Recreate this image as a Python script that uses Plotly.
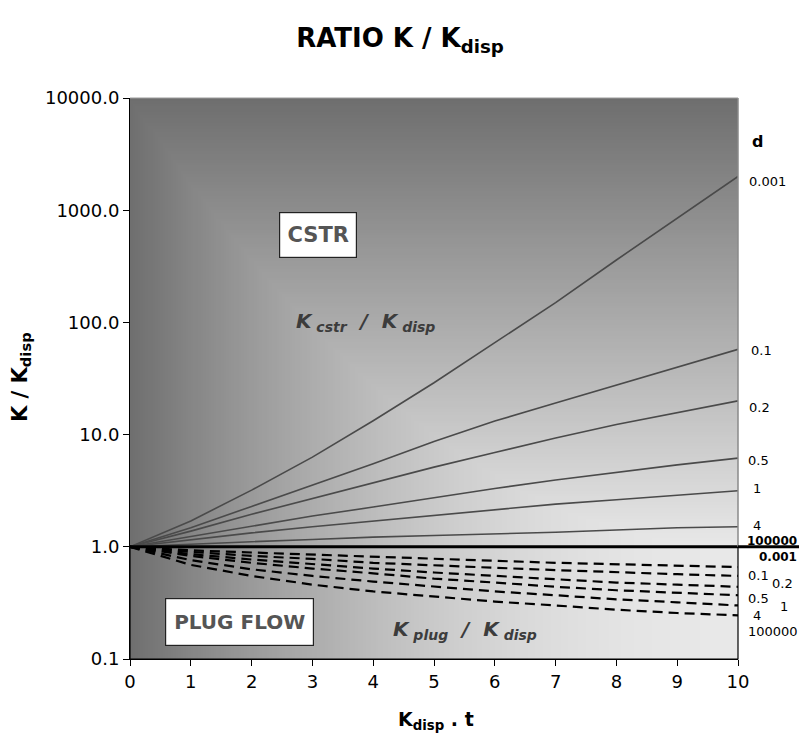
import numpy as np
import plotly.graph_objects as go

# ---------------- data ----------------
kt = [0, 1, 2, 3, 4, 5, 6, 7, 8, 9, 10]

# K_cstr / K_disp for dispersion numbers d
cstr_d_labels = ["0.001", "0.1", "0.2", "0.5", "1", "4", "100000"]
cstr_0_001 = [1, 1.7, 3.2, 6.3, 13.3, 29, 66, 150, 360, 850, 2000]
cstr_0_1 = [1, 1.48, 2.29, 3.55, 5.5, 8.7, 13.2, 19.1, 27.5, 39.8, 57.5]
cstr_0_2 = [1, 1.38, 1.95, 2.69, 3.72, 5.13, 6.92, 9.33, 12.3, 15.8, 20.0]
cstr_0_5 = [1, 1.24, 1.53, 1.88, 2.26, 2.75, 3.31, 3.94, 4.62, 5.37, 6.17]
cstr_1 = [1, 1.16, 1.33, 1.51, 1.70, 1.91, 2.14, 2.40, 2.63, 2.88, 3.16]
cstr_4 = [1, 1.06, 1.11, 1.16, 1.22, 1.26, 1.30, 1.35, 1.41, 1.48, 1.51]
cstr_100000 = [1, 1, 1, 1, 1, 1, 1, 1, 1, 1, 1]

# K_plug / K_disp for dispersion numbers d
plug_d_labels = ["0.001", "0.1", "0.2", "0.5", "1", "4", "100000"]
plug_0_001 = [1, 1, 1, 1, 1, 1, 1, 1, 1, 1, 1]
plug_0_1 = [1, 0.93, 0.89, 0.85, 0.81, 0.78, 0.75, 0.72, 0.70, 0.68, 0.66]
plug_0_2 = [1, 0.90, 0.83, 0.78, 0.72, 0.68, 0.65, 0.62, 0.59, 0.57, 0.55]
plug_0_5 = [1, 0.86, 0.77, 0.70, 0.64, 0.59, 0.55, 0.51, 0.48, 0.46, 0.44]
plug_1 = [1, 0.83, 0.72, 0.64, 0.58, 0.52, 0.48, 0.44, 0.41, 0.39, 0.37]
plug_4 = [1, 0.76, 0.63, 0.55, 0.49, 0.44, 0.40, 0.37, 0.34, 0.32, 0.30]
plug_100000 = [1, 0.69, 0.55, 0.46, 0.40, 0.36, 0.325, 0.30, 0.275, 0.257, 0.245]

y_tick_vals = [0.1, 1, 10, 100, 1000, 10000]
y_tick_text = ["0.1", "1.0", "10.0", "100.0", "1000.0", "10000.0"]
x_tick_vals = [0, 1, 2, 3, 4, 5, 6, 7, 8, 9, 10]

# ---------------- layout geometry ----------------
W, H = 800, 737
L, R, T, B = 130, 738, 98, 659          # plot-area pixel box


def px(xp):
    return (xp - L) / (R - L)


def py(yp):
    return (B - yp) / (B - T)


FONT = "DejaVu Sans, Liberation Sans, sans-serif"

fig = go.Figure()

# ---------------- background gradient (decoration) ----------------
nx = 240
ny = 160
xe = np.linspace(0, 10, nx + 1)
xc = 0.5 * (xe[:-1] + xe[1:]) / 10.0
up_log = np.linspace(0, 4, ny + 1)
ye = np.concatenate([[0.1], 10 ** up_log])
vc = 1 - 0.5 * (up_log[:-1] + up_log[1:]) / 4.0   # 0 at top, 1 at bottom


def ease(t):
    return 1 - (1 - t) ** 2


z = np.zeros((ny + 1, nx))
z[0, :] = ease(xc)
for i in range(ny):
    z[i + 1, :] = np.minimum(ease(xc), vc[i])

fig.add_trace(go.Heatmap(
    x=xe, y=ye, z=z, zmin=0, zmax=1, zsmooth=False,
    colorscale=[[0, "rgb(110,110,110)"], [1, "rgb(232,232,232)"]],
    showscale=False, hoverinfo="skip"))

# ---------------- series ----------------
cstr_series = [cstr_0_001, cstr_0_1, cstr_0_2, cstr_0_5, cstr_1, cstr_4]
for lab, ys in zip(cstr_d_labels, cstr_series):
    fig.add_trace(go.Scatter(x=kt, y=ys, mode="lines", name="cstr d=" + lab,
                             line=dict(color="#4a4a4a", width=1.6)))

plug_series = [plug_0_1, plug_0_2, plug_0_5, plug_1, plug_4, plug_100000]
for lab, ys in zip(plug_d_labels[1:], plug_series):
    fig.add_trace(go.Scatter(x=kt, y=ys, mode="lines", name="plug d=" + lab,
                             line=dict(color="black", width=2.2, dash="10px,6px")))

fig.add_trace(go.Scatter(x=kt, y=cstr_100000, mode="lines", name="cstr d=100000",
                         line=dict(color="#d8d8d8", width=1.2)))
fig.add_trace(go.Scatter(x=kt, y=plug_0_001, mode="lines", name="plug d=0.001",
                         line=dict(color="black", width=3)))

# ---------------- shapes ----------------
y_one = (0 - (-1)) / 5.0
shapes = [
    dict(type="rect", xref="paper", yref="paper", x0=0, x1=1, y0=0, y1=y_one,
         line=dict(color="black", width=1.2)),
    dict(type="line", xref="paper", yref="paper", x0=1, x1=1, y0=y_one, y1=1,
         line=dict(color="#8a8a8a", width=1.5)),
    dict(type="line", xref="paper", yref="paper", x0=0, x1=1, y0=1, y1=1,
         line=dict(color="#9a9a9a", width=1)),
    dict(type="line", xref="paper", yref="paper", x0=1, x1=px(799), y0=y_one, y1=y_one,
         line=dict(color="black", width=3)),
]

# ---------------- annotations ----------------
ann = []


def lab(text, xl, yc, size=13, bold=False):
    t = "<b>%s</b>" % text if bold else text
    ann.append(dict(text=t, xref="paper", yref="paper", x=px(xl), y=py(yc),
                    xanchor="left", yanchor="middle", showarrow=False,
                    font=dict(family=FONT, size=size, color="black")))


lab("d", 750, 141, size=16, bold=True)
upper_pos = [(747, 181), (749, 350), (747, 407), (746, 460), (751, 488), (751, 525), (745, 541)]
for t, (xl, yc) in zip(cstr_d_labels, upper_pos):
    if t == "100000":
        lab(t, xl, yc, size=12, bold=True)
    else:
        lab(t, xl, yc)
lower_pos = [(757, 557), (746, 575), (770, 583), (746, 598), (778, 606), (751, 615), (746, 631)]
for t, (xl, yc) in zip(plug_d_labels, lower_pos):
    if t == "0.001":
        lab(t, xl, yc, size=12, bold=True)
    else:
        lab(t, xl, yc)

ann.append(dict(text="<b>CSTR</b>", xref="paper", yref="paper",
                x=px(317.5), y=py(235), xanchor="center", yanchor="middle",
                showarrow=False, width=76, height=44, bgcolor="white",
                bordercolor="#222", borderwidth=1.2, borderpad=0,
                font=dict(family=FONT, size=21, color="#555555")))
ann.append(dict(text="<b>PLUG FLOW</b>", xref="paper", yref="paper",
                x=px(239), y=py(622), xanchor="center", yanchor="middle",
                showarrow=False, width=147, height=46, bgcolor="white",
                bordercolor="#222", borderwidth=1.2, borderpad=0,
                font=dict(family=FONT, size=20, color="#555555")))

ann.append(dict(text="<b><i>K<sub> cstr</sub>  /  K<sub> disp</sub></i></b>",
                xref="paper", yref="paper", x=px(365), y=py(322),
                xanchor="center", yanchor="middle", showarrow=False,
                font=dict(family=FONT, size=20, color="#3c3c3c")))
ann.append(dict(text="<b><i>K<sub> plug</sub>  /  K<sub> disp</sub></i></b>",
                xref="paper", yref="paper", x=px(465), y=py(630),
                xanchor="center", yanchor="middle", showarrow=False,
                font=dict(family=FONT, size=20, color="#3c3c3c")))

ann.append(dict(text="<b>K / K<sub>disp</sub></b>", xref="paper", yref="paper",
                x=px(21), y=py(377), xanchor="center", yanchor="middle",
                textangle=-90, showarrow=False,
                font=dict(family=FONT, size=21, color="black")))
ann.append(dict(text="<b>K<sub>disp</sub> . t</b>", xref="paper", yref="paper",
                x=px(436), y=py(720), xanchor="center", yanchor="middle",
                showarrow=False, font=dict(family=FONT, size=19, color="black")))

fig.update_layout(
    width=W, height=H,
    margin=dict(l=L, r=W - R, t=T, b=H - B, pad=0),
    paper_bgcolor="white", plot_bgcolor="white",
    showlegend=False,
    title=dict(text="<b>RATIO K / K<sub>disp</sub></b>", x=0.5, xanchor="center",
               y=1 - 38 / H, yanchor="middle",
               font=dict(family=FONT, size=26, color="black")),
    xaxis=dict(range=[0, 10], tickvals=x_tick_vals, ticks="outside", ticklen=6,
               tickcolor="black", showline=True, linecolor="black", linewidth=1,
               showgrid=False, zeroline=False,
               tickfont=dict(family=FONT, size=18, color="black")),
    yaxis=dict(type="log", range=[-1, 4], tickvals=y_tick_vals, ticktext=y_tick_text,
               ticks="outside", ticklen=6, tickcolor="black", showline=True,
               linecolor="black", linewidth=1, showgrid=False, zeroline=False,
               tickfont=dict(family=FONT, size=18, color="black")),
    shapes=shapes,
    annotations=ann,
)

fig.write_html("out.html",
               config={"displayModeBar": False},
               post_script="document.body.style.margin='0';"
                           "document.body.style.padding='0';"
                           "document.documentElement.style.overflow='hidden';")
